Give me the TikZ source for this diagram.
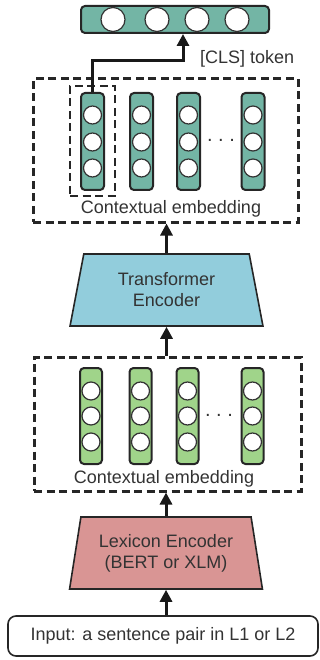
\documentclass[tikz,border=0pt]{standalone}
\usepackage{fontspec}
\setmainfont{Liberation Sans}
\usetikzlibrary{arrows.meta,shapes.geometric,positioning}
\definecolor{txt}{HTML}{333333}
\definecolor{tealfill}{HTML}{73B5A5}
\definecolor{greenfill}{HTML}{A0D48A}
\definecolor{bluefill}{HTML}{92CDDC}
\definecolor{pinkfill}{HTML}{D99594}
\tikzset{
  lbl/.style={font=\fontsize{18}{21}\selectfont, text=txt, inner sep=0pt, align=center},
  dots/.style={font=\fontsize{20}{20}\selectfont, text=txt, inner sep=0pt},
  dashbox/.style={draw=black!85, line width=3pt, dash pattern=on 8pt off 4.5pt, inner sep=0pt},
  vecbar/.style={draw=black!85, line width=2pt, rounded corners=4pt, inner sep=0pt},
  unit/.style={circle, draw=black!80, fill=white, line width=1.2pt, inner sep=0pt},
  encoder/.style={trapezium, trapezium stretches=true, trapezium angle=76.7, draw=black!85,
    line width=1.6pt, minimum width=193pt, minimum height=72pt, inner sep=0pt,
    font=\fontsize{18}{21}\selectfont, text=txt, align=center},
  arr/.style={line width=3pt, draw=black!90, -{Triangle[length=12pt,width=12pt]}},
}
\begin{document}
\begin{tikzpicture}[x=1pt,y=-1pt]
\useasboundingbox (0,0) rectangle (320,660);

% pooled output vector
\node[vecbar, fill=tealfill, minimum width=188pt, minimum height=27pt] (bar) at (175,19.5) {};
\foreach \x [count=\i] in {113,157,197,237}
  \node[unit, minimum size=24pt] (b\i) at (\x,19.5) {};

% upper contextual embedding
\node[dashbox, minimum width=265pt, minimum height=143pt] (ctxtop) at (165.5,150.5) {};
\node[dashbox, line width=2.6pt, minimum width=45pt, minimum height=110pt] (cls) at (92.5,141) {};
\foreach \x [count=\i] in {92.5,141.5,188.5,253} {
  \node[vecbar, fill=tealfill, minimum width=23pt, minimum height=97pt] (t\i) at (\x,141.5) {};
  \foreach \y [count=\j] in {115,142,168}
    \node[unit, minimum size=18pt] (t\i u\j) at (\x,\y) {};
}
\node[dots] (dotstop) at (221,140) {.\ .\ .};
\node[lbl, anchor=base] (ctxtoplbl) at (171,214) {Contextual embedding};
\node[lbl, anchor=base west] (clslbl) at (200,64) {[CLS] token};

% transformer encoder
\node[encoder, fill=bluefill] (trans) at (166.5,290) {Transformer\\Encoder};

% lower contextual embedding
\node[dashbox, minimum width=267pt, minimum height=134pt] (ctxbot) at (167.5,424) {};
\foreach \x [count=\i] in {91,140.5,187.5,252.5} {
  \node[vecbar, fill=greenfill, minimum width=22pt, minimum height=96pt] (g\i) at (\x,416) {};
  \foreach \y [count=\j] in {391,416,442}
    \node[unit, minimum size=18pt] (g\i u\j) at (\x,\y) {};
}
\node[dots] (dotsbot) at (219,415) {.\ .\ .};
\node[lbl, anchor=base] (ctxbotlbl) at (164,483) {Contextual embedding};

% lexicon encoder
\node[encoder, fill=pinkfill] (lex) at (166,553) {Lexicon Encoder\\(BERT or XLM)};

% input
\node[draw=black!85, line width=1.6pt, rounded corners=8pt, minimum width=310pt,
  minimum height=40pt, inner sep=0pt, font=\fontsize{18}{21}\selectfont, text=txt] (input) at (163,636)
  {Input: a sentence pair in L1 or L2};

% connectors
\coordinate (clsin) at ([xshift=8pt]bar.south);
\draw[arr] (t1.north) |- ([yshift=-27pt]clsin) -- (clsin);
\draw[arr] (trans.north) -- (trans.north |- ctxtop.south);
\draw[arr] (trans.south |- ctxbot.north) -- (trans.south);
\draw[arr] (lex.north) -- (lex.north |- ctxbot.south);
\draw[arr] (lex.south |- input.north) -- (lex.south);
\end{tikzpicture}
\end{document}
